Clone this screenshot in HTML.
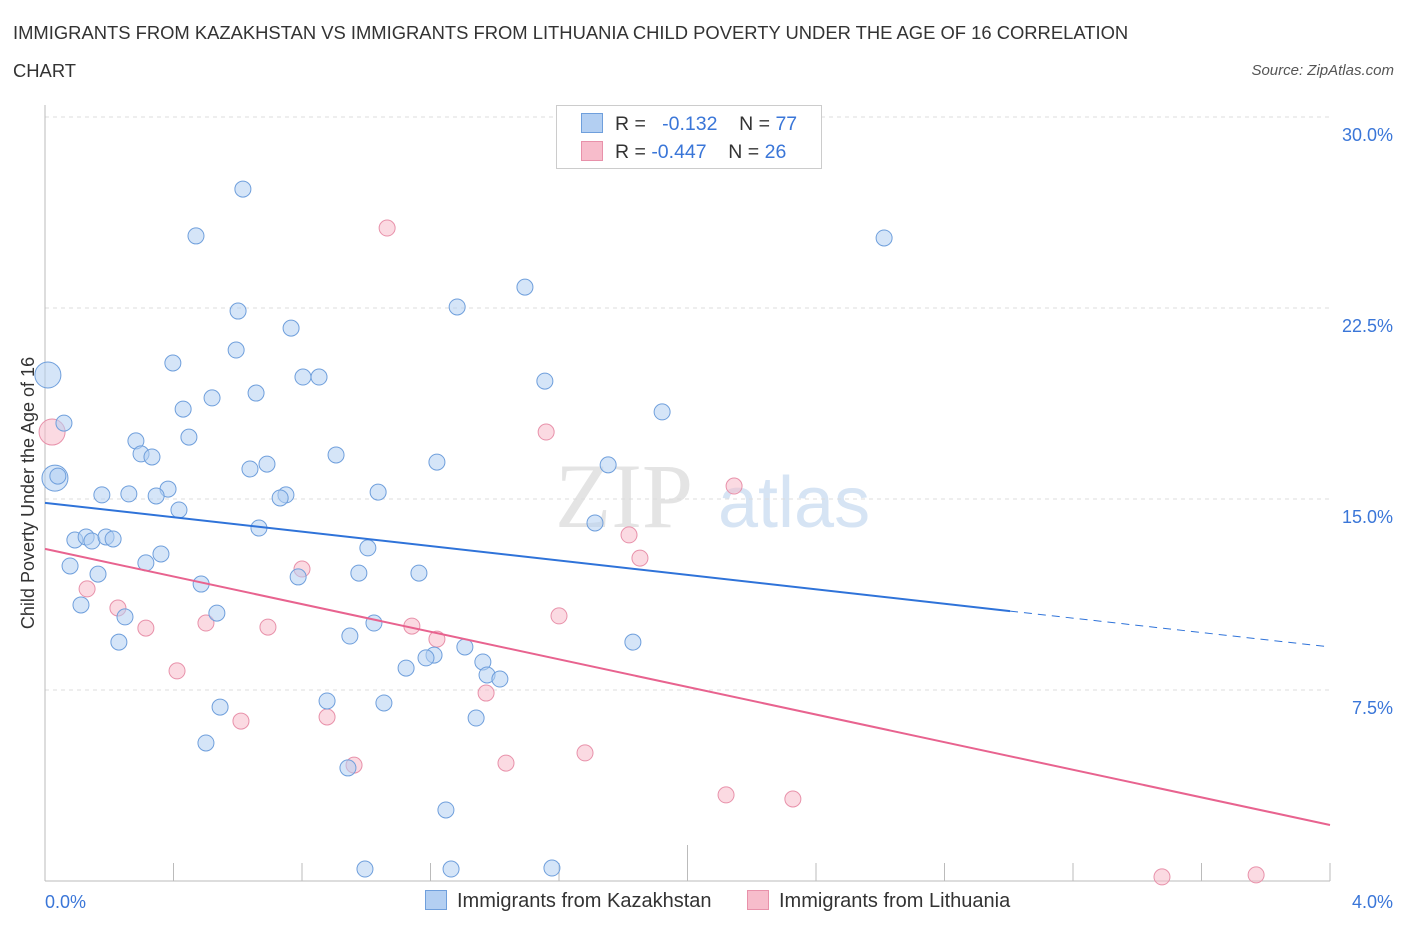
<!DOCTYPE html>
<html><head><meta charset="utf-8"><style>
body{margin:0;background:#fff;font-family:"Liberation Sans",sans-serif;}
#wrap{position:relative;width:1406px;height:930px;overflow:hidden;}
.t{position:absolute;}
</style></head><body>
<div id="wrap">
<div class="t" style="left:13px;top:14px;font-size:18.4px;color:#333;line-height:38px;width:1140px;">IMMIGRANTS FROM KAZAKHSTAN VS IMMIGRANTS FROM LITHUANIA CHILD POVERTY UNDER THE AGE OF 16 CORRELATION CHART</div>
<div class="t" style="right:12px;top:62px;font-size:15px;color:#555;font-style:italic;">Source: ZipAtlas.com</div>
<svg id="svg" width="1406" height="930" style="position:absolute;left:0;top:0"></svg>
</div>
<script>
const blueX=[0.009,0.059,0.031,0.040,0.616,0.470,2.612,1.494,0.601,1.283,0.766,0.595,0.398,0.803,0.853,1.556,0.657,0.520,0.430,1.921,0.283,0.448,0.299,0.333,0.906,0.691,0.638,1.220,1.753,0.383,0.177,0.261,0.346,0.750,0.732,1.037,0.417,0.666,1.712,0.093,0.128,0.146,0.190,0.212,1.005,0.361,0.314,0.078,0.165,0.788,0.977,1.164,0.486,0.112,0.535,0.249,1.024,0.949,0.230,1.830,1.307,1.363,1.211,1.186,1.124,1.376,1.416,0.878,1.055,0.545,1.342,0.501,0.943,1.248,0.996,1.264,1.578];
const blueY=[19.87,17.98,15.82,15.90,27.17,25.33,25.25,23.32,22.38,22.54,21.71,20.85,20.34,19.79,19.79,19.63,19.16,18.97,18.53,18.42,17.28,17.43,16.77,16.65,16.73,16.37,16.18,16.45,16.34,15.39,15.16,15.20,15.12,15.16,15.04,15.27,14.57,13.86,14.06,13.39,13.51,13.35,13.51,13.43,13.08,12.84,12.49,12.37,12.05,11.94,12.09,12.09,11.66,10.84,10.52,10.37,10.13,9.62,9.38,9.38,9.19,8.60,8.87,8.76,8.36,8.09,7.93,7.07,6.99,6.83,6.40,5.42,4.44,2.79,0.47,0.47,0.51];
const blueBig=[0,2];
const pinkX=[0.022,1.065,1.560,2.145,1.818,1.852,0.800,0.131,0.227,1.600,0.314,0.501,0.694,1.142,1.220,0.411,1.373,0.610,0.878,0.962,1.435,1.681,2.120,2.328,3.477,3.770];
const pinkY=[17.63,25.64,17.63,15.51,13.59,12.68,12.25,11.47,10.72,10.41,9.93,10.13,9.97,10.01,9.50,8.25,7.38,6.28,6.44,4.55,4.63,5.03,3.38,3.22,0.16,0.24];
const pinkBig=[0];
const blueTrend=[14.85,9.19];
const pinkTrend=[13.04,2.20];
const yTicks=[7.5,15.0,22.5,30.0];
const yTickLabels=["7.5%","15.0%","22.5%","30.0%"];
const xTicks=[0,0.4,0.8,1.2,1.6,2.0,2.4,2.8,3.2,3.6,4.0];

const X0=45,X1=1330,Y0=881,Y1=117;
const sx=v=>X0+(v/4)*(X1-X0);
const sy=v=>Y0-(v/30)*(Y0-Y1);
const svg=document.getElementById('svg');
const NS='http://www.w3.org/2000/svg';
function mk(tag,attrs,parent){const e=document.createElementNS(NS,tag);for(const k in attrs)e.setAttribute(k,attrs[k]);(parent||svg).appendChild(e);return e;}

let wm=mk('text',{x:555,y:527,'font-size':92,'font-family':'Liberation Serif,serif',fill:'#e4e4e4'});
wm.textContent='ZIP';


let wm2=mk('text',{x:718,y:527,'font-size':72,'font-family':'Liberation Sans,sans-serif',fill:'#d6e4f4'});
wm2.textContent='atlas';



yTicks.forEach((v,i)=>{
 let g=mk('line',{x1:X0,x2:X1,y1:sy(v),y2:sy(v),stroke:'#dcdcdc','stroke-dasharray':'4,4'});
 
 
 let t=mk('text',{x:1393,y:sy(v)+24,'text-anchor':'end','font-size':18,fill:'#3a76d8','font-family':'Liberation Sans,sans-serif'});
 t.textContent=yTickLabels[i];
 
 
});
let ya=mk('line',{x1:X0,x2:X0,y1:105,y2:Y0,stroke:'#bbb'});


let xa=mk('line',{x1:X0,x2:X1,y1:Y0,y2:Y0,stroke:'#bbb'});


xTicks.forEach((v,i)=>{
 let tk=mk('line',{x1:sx(v),x2:sx(v),y1:i==5?845:863,y2:Y0,stroke:'#bbb'});
 
 
});
let xl0=mk('text',{x:45,y:908,'font-size':18,fill:'#3a76d8','font-family':'Liberation Sans,sans-serif'});
xl0.textContent='0.0%';


let xl1=mk('text',{x:1393,y:908,'text-anchor':'end','font-size':18,fill:'#3a76d8','font-family':'Liberation Sans,sans-serif'});
xl1.textContent='4.0%';


let yt=mk('text',{x:34,y:493,'text-anchor':'middle','font-size':18,fill:'#333',transform:'rotate(-90 34 493)','font-family':'Liberation Sans,sans-serif'});
yt.textContent='Child Poverty Under the Age of 16';



function pts(xs,ys,big,fill,stroke,name){
 xs.forEach((x,i)=>{
  const r=big.includes(i)?13:8;
  let c=mk('circle',{cx:sx(x),cy:sy(ys[i]),r:r,fill:fill,'fill-opacity':0.55,stroke:stroke,'stroke-width':1});
  
  
 });
}
pts(pinkX,pinkY,pinkBig,'#f7bccb','#e891aa','point-lithuania');
pts(blueX,blueY,blueBig,'#b3cff2','#6f9fdc','point-kazakhstan');

const bxEnd=3.004;
let bl=mk('line',{x1:sx(0),y1:sy(blueTrend[0]),x2:sx(bxEnd),y2:sy(blueTrend[0]+(blueTrend[1]-blueTrend[0])*bxEnd/4),stroke:'#2f73d9','stroke-width':2});


let bd=mk('line',{x1:sx(bxEnd),y1:sy(blueTrend[0]+(blueTrend[1]-blueTrend[0])*bxEnd/4),x2:sx(4),y2:sy(blueTrend[1]),stroke:'#2f73d9','stroke-width':1,'stroke-dasharray':'8,6'});


let pl=mk('line',{x1:sx(0),y1:sy(pinkTrend[0]),x2:sx(4),y2:sy(pinkTrend[1]),stroke:'#e8638f','stroke-width':2});


</script>
<div class="t" style="left:556px;top:105px;width:264px;height:62px;border:1px solid #ccc;background:#fff;font-size:19.5px;">
 <div style="position:absolute;left:24px;top:7px;white-space:pre;color:#333;"><span style="display:inline-block;width:20px;height:18px;background:#b3cff2;border:1px solid #6f9fdc;vertical-align:-3px;margin-right:12px;"></span>R =  <span style="color:#3a76d8"> -0.132</span>    N = <span style="color:#3a76d8">77</span></div>
 <div style="position:absolute;left:24px;top:35px;white-space:pre;color:#333;"><span style="display:inline-block;width:20px;height:18px;background:#f7bccb;border:1px solid #e891aa;vertical-align:-3px;margin-right:12px;"></span>R = <span style="color:#3a76d8">-0.447</span>    N = <span style="color:#3a76d8">26</span></div>
</div>
<div class="t" style="left:425px;top:890px;font-size:20px;color:#333;"><span style="display:inline-block;width:20px;height:18px;background:#b3cff2;border:1px solid #6f9fdc;vertical-align:-3px;margin-right:10px;"></span>Immigrants from Kazakhstan</div>
<div class="t" style="left:747px;top:890px;font-size:20px;color:#333;"><span style="display:inline-block;width:20px;height:18px;background:#f7bccb;border:1px solid #e891aa;vertical-align:-3px;margin-right:10px;"></span>Immigrants from Lithuania</div>
</body></html>
